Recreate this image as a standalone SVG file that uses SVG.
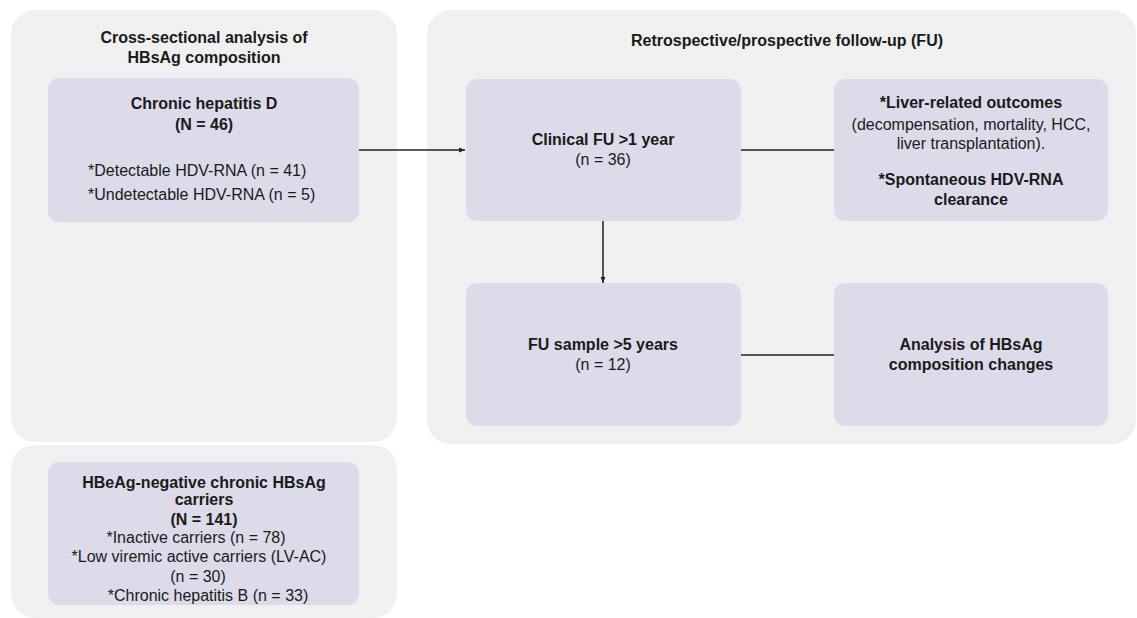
<svg xmlns="http://www.w3.org/2000/svg" width="1137" height="618" viewBox="0 0 1137 618">
<defs>
<style>
.panel{fill:#f0f0f0;}
.box{fill:#dddbe9;}
text{font-family:"Liberation Sans",Arial,sans-serif;font-size:16px;fill:#1a1a1a;text-anchor:middle;}
.b{font-weight:bold;}
.l{text-anchor:start;}
.conn{stroke:#222;stroke-width:1.5;fill:none;}
</style>
<marker id="arr" viewBox="0 0 10 10" refX="10" refY="5" markerWidth="6" markerHeight="6" markerUnits="userSpaceOnUse" orient="auto">
<path d="M0,1 L10,5 L0,9 z" fill="#222"/>
</marker>
</defs>
<rect x="0" y="0" width="1137" height="618" fill="#ffffff"/>
<g id="panel-cross">
<rect class="panel" x="11" y="10" width="386" height="432" rx="24"/>
<text class="b" x="204" y="43">Cross-sectional analysis of</text>
<text class="b" x="204" y="63">HBsAg composition</text>
</g>
<g id="panel-hbeag">
<rect class="panel" x="11" y="445" width="386" height="173" rx="24"/>
</g>
<g id="panel-fu">
<rect class="panel" x="427" y="10" width="709" height="434" rx="24"/>
<text class="b" x="787" y="46">Retrospective/prospective follow-up (FU)</text>
</g>
<g id="node-chd">
<rect class="box" x="48" y="78" width="311" height="144" rx="11"/>
<text class="b" x="204" y="109">Chronic hepatitis D</text>
<text class="b" x="204" y="130">(N = 46)</text>
<text class="l" x="88" y="176">*Detectable HDV-RNA (n = 41)</text>
<text class="l" x="88" y="200">*Undetectable HDV-RNA (n = 5)</text>
</g>
<g id="node-hbeag">
<rect class="box" x="48" y="462" width="311" height="143" rx="11"/>
<text class="b" x="204" y="488">HBeAg-negative chronic HBsAg</text>
<text class="b" x="204" y="505">carriers</text>
<text class="b" x="204" y="525">(N = 141)</text>
<text x="196" y="543">*Inactive carriers (n = 78)</text>
<text x="199" y="562">*Low viremic active carriers (LV-AC)</text>
<text x="198" y="582">(n = 30)</text>
<text x="208" y="601">*Chronic hepatitis B (n = 33)</text>
</g>
<g id="node-clinical">
<rect class="box" x="466" y="79" width="275" height="142" rx="11"/>
<text class="b" x="603" y="145">Clinical FU &gt;1 year</text>
<text x="603" y="165">(n = 36)</text>
</g>
<g id="node-outcomes">
<rect class="box" x="834" y="79" width="274" height="142" rx="11"/>
<text class="b" x="971" y="108">*Liver-related outcomes</text>
<text x="971" y="130">(decompensation, mortality, HCC,</text>
<text x="971" y="149">liver transplantation).</text>
<text class="b" x="971" y="185">*Spontaneous HDV-RNA</text>
<text class="b" x="971" y="205">clearance</text>
</g>
<g id="node-sample">
<rect class="box" x="466" y="283" width="275" height="143" rx="11"/>
<text class="b" x="603" y="350">FU sample &gt;5 years</text>
<text x="603" y="370">(n = 12)</text>
</g>
<g id="node-analysis">
<rect class="box" x="834" y="283" width="274" height="143" rx="11"/>
<text class="b" x="971" y="350">Analysis of HBsAg</text>
<text class="b" x="971" y="370">composition changes</text>
</g>
<g id="connectors">
<line class="conn" x1="359" y1="150" x2="465" y2="150" marker-end="url(#arr)"/>
<line class="conn" x1="741" y1="150" x2="834" y2="150"/>
<line class="conn" x1="603" y1="221" x2="603" y2="283" marker-end="url(#arr)"/>
<line class="conn" x1="741" y1="355" x2="834" y2="355"/>
</g>
</svg>
